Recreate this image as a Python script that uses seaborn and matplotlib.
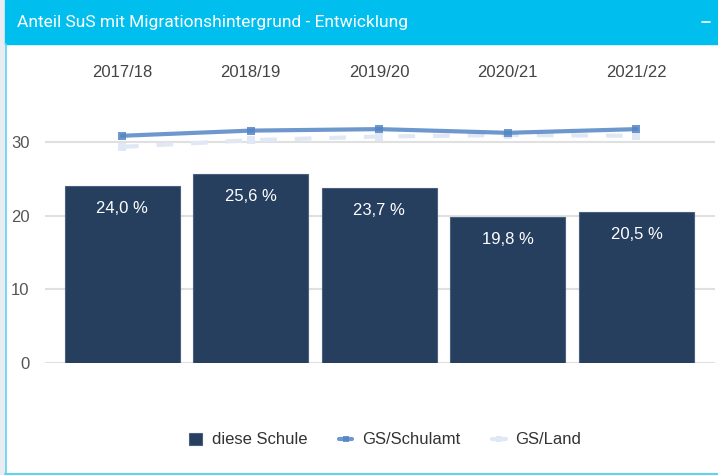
import numpy as np
import pandas as pd
import matplotlib
matplotlib.use('Agg')
import matplotlib.pyplot as plt
from matplotlib.patches import Rectangle, Patch
from matplotlib.lines import Line2D
import seaborn as sns

sns.set_theme(style='white')
plt.rcParams['font.family'] = ['Liberation Sans', 'DejaVu Sans']

# Werte
jahre = ['2017/18', '2018/19', '2019/20', '2020/21', '2021/22']
schule = [24.0, 25.6, 23.7, 19.8, 20.5]
schulamt = [30.8, 31.5, 31.7, 31.2, 31.7]
land = [29.3, 30.2, 30.7, 30.9, 30.8]
y_ticks = [0, 10, 20, 30]
titel = 'Anteil SuS mit Migrationshintergrund - Entwicklung'

bar_farbe = '#263f5f'
amt_farbe = '#5585c5'
land_farbe = '#dfe8f4'
cyan = '#00bfef'

W, H = 718, 475
fig = plt.figure(figsize=(W / 100, H / 100), dpi=100)

# Rahmen / Kopfzeile des Panels
fig.patches.append(Rectangle((0, 0), 5 / W, 1, transform=fig.transFigure,
                             color='#e9edf2', zorder=0))
fig.patches.append(Rectangle((5 / W, 1 - 44 / H), 1 - 5 / W, 44 / H,
                             transform=fig.transFigure, color=cyan, zorder=1))
fig.lines.append(Line2D([5.5 / W, 5.5 / W], [1 - 44 / H, 1 - 473.5 / H],
                        transform=fig.transFigure, color='#5fd3f3', lw=1.2))
fig.lines.append(Line2D([5 / W, 1], [1 - 473.5 / H, 1 - 473.5 / H],
                        transform=fig.transFigure, color='#5fd3f3', lw=1.5))
fig.text(17 / W, 1 - 22 / H, titel, color='white', fontsize=12.5,
         family=['Roboto', 'DejaVu Sans'], va='center', ha='left')
fig.lines.append(Line2D([702 / W, 710 / W], [1 - 22 / H, 1 - 22 / H],
                        transform=fig.transFigure, color='white', lw=1.2))

# Achsen
ax_l, ax_r = 45, 715
y0_px, px_per = 363.3, 7.387
y_top = 34
ax = fig.add_axes([ax_l / W, (H - y0_px) / H, (ax_r - ax_l) / W,
                   y_top * px_per / H])

df = pd.DataFrame({'jahr': jahre, 'wert': schule})
sns.barplot(data=df, x='jahr', y='wert', color=bar_farbe, saturation=1,
            width=0.894, edgecolor='#4b6080', linewidth=0.8, ax=ax, zorder=2)

x = np.arange(len(jahre))
ax.plot(x, land, color=land_farbe, lw=3, linestyle=(0, (4, 4.3)),
        marker='s', markersize=6, markeredgewidth=0, zorder=3)
sns.lineplot(x=x, y=schulamt, color=amt_farbe, lw=3, alpha=0.85,
             marker='s', markersize=6, markeredgewidth=0, ax=ax, zorder=4)

for xi, v in zip(x, schule):
    ax.annotate(f'{v:.1f} %'.replace('.', ','), (xi, v), xytext=(0, -16),
                textcoords='offset points', ha='center', va='center',
                color='white', fontsize=12, zorder=5)

ax.set_xlim(-(122 - ax_l) / 128.6, 4 + (ax_r - 636.5) / 128.6)
ax.set_ylim(0, y_top)
ax.set_yticks(y_ticks)
ax.yaxis.grid(True, color='#e0e0e0', lw=1.5)
ax.set_axisbelow(True)
ax.xaxis.set_ticks_position('top')
ax.tick_params(axis='x', top=False, bottom=False, labeltop=True,
               labelbottom=False, pad=17, labelsize=12, labelcolor='#444444')
ax.tick_params(axis='y', left=False, pad=5, labelsize=12, labelcolor='#555555')
ax.set_xlabel('')
ax.set_ylabel('')
for s in ax.spines.values():
    s.set_visible(False)
ax.patch.set_alpha(0)

handles = [
    Patch(facecolor=bar_farbe, edgecolor='#4b6080', lw=0.8),
    Line2D([], [], color=amt_farbe, lw=3, marker='s', markersize=5,
           markeredgewidth=0, alpha=0.85),
    Line2D([], [], color=land_farbe, lw=3, marker='s', markersize=5,
           markeredgewidth=0),
]
fig.legend(handles, ['diese Schule', 'GS/Schulamt', 'GS/Land'], ncol=3,
           loc='center', bbox_to_anchor=(385 / W, 1 - 440 / H), frameon=False,
           fontsize=12, handlelength=0.8, handletextpad=0.6, columnspacing=1.9,
           labelcolor='#333333')

fig.savefig('out.png', dpi=100)
